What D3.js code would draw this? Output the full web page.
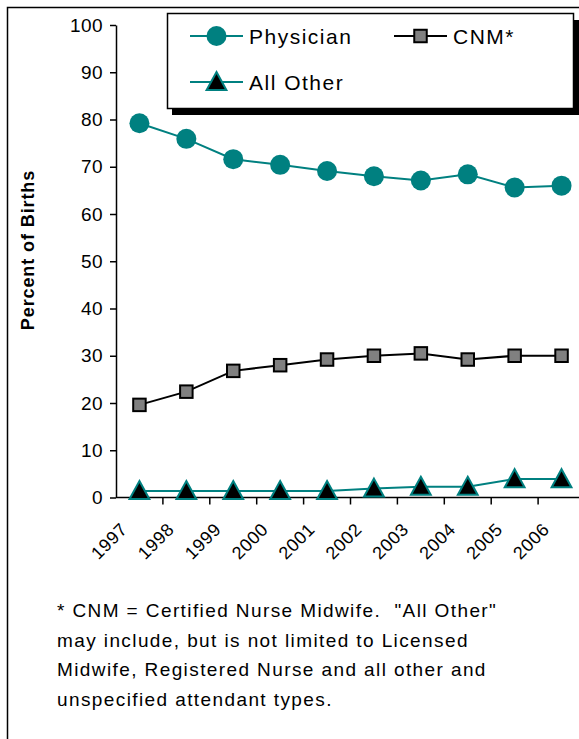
<!DOCTYPE html>
<html>
<head>
<meta charset="utf-8">
<script src="https://cdn.jsdelivr.net/npm/d3@7"></script>
<style>
  html, body { margin: 0; padding: 0; background: #fff; }
  svg { display: block; }
  text { font-family: "Liberation Sans", Arial, sans-serif; fill: #000; }
</style>
</head>
<body>
<svg id="chart" width="579" height="739"></svg>
<script>
// Birth attendant shares by year
const years = ["1997", "1998", "1999", "2000", "2001", "2002", "2003", "2004", "2005", "2006"];
const physician = [79.2, 75.9, 71.6, 70.4, 69.1, 68.0, 67.1, 68.4, 65.6, 66.0];
const cnm = [19.6, 22.4, 26.8, 28.0, 29.2, 30.0, 30.5, 29.2, 30.0, 30.0];
const allOther = [1.4, 1.4, 1.4, 1.4, 1.4, 1.9, 2.3, 2.3, 3.9, 3.9];
const yTicks = [0, 10, 20, 30, 40, 50, 60, 70, 80, 90, 100];
const seriesNames = ["Physician", "CNM*", "All Other"];
const footnoteLines = [
  "* CNM = Certified Nurse Midwife.  \"All Other\"",
  "may include, but is not limited to Licensed",
  "Midwife, Registered Nurse and all other and",
  "unspecified attendant types."
];

const teal = "#008080";
const svg = d3.select("#chart");

// outer frame (left and top edges fall inside the page)
svg.append("rect")
  .attr("x", 7.5).attr("y", 7.5)
  .attr("width", 620).attr("height", 800)
  .attr("fill", "none").attr("stroke", "#000").attr("stroke-width", 1.5);

const plot = { left: 116, top: 25, bottom: 497.5, right: 585 };

const x = d3.scaleBand().domain(years).range([plot.left, plot.right]).padding(0);
const y = d3.scaleLinear().domain([0, 100]).range([plot.bottom, plot.top]);
const cx = d => x(d) + x.bandwidth() / 2;

// y axis
const yAxis = svg.append("g")
  .attr("transform", `translate(${plot.left},0)`)
  .call(d3.axisLeft(y).tickValues(yTicks).tickSize(6).tickPadding(7).tickSizeOuter(0));
yAxis.select(".domain").attr("stroke", "#000").attr("stroke-width", 1.5);
yAxis.selectAll(".tick line").attr("stroke", "#000").attr("stroke-width", 1.5);
yAxis.selectAll(".tick text")
  .attr("font-family", "Liberation Sans, Arial, sans-serif")
  .attr("font-size", 19).attr("letter-spacing", 0.4).attr("fill", "#000");

// x axis line and tick marks between categories
const xAxis = svg.append("g").attr("transform", `translate(0,${plot.bottom})`);
xAxis.append("line")
  .attr("x1", plot.left).attr("x2", plot.right)
  .attr("stroke", "#000").attr("stroke-width", 1.5);
xAxis.selectAll("line.tk")
  .data(years)
  .join("line")
  .attr("class", "tk")
  .attr("x1", d => x(d) + x.bandwidth())
  .attr("x2", d => x(d) + x.bandwidth())
  .attr("y1", 0).attr("y2", 7)
  .attr("stroke", "#000").attr("stroke-width", 1.5);
xAxis.selectAll("text.yr")
  .data(years)
  .join("text")
  .attr("class", "yr")
  .attr("text-anchor", "end")
  .attr("font-size", 18)
  .attr("letter-spacing", 0.6)
  .attr("transform", d => `translate(${cx(d) - 11},${33}) rotate(-45)`)
  .text(d => d);

// y axis title
svg.append("text")
  .attr("transform", "translate(34,250) rotate(-90)")
  .attr("text-anchor", "middle")
  .attr("font-size", 18).attr("font-weight", "bold").attr("letter-spacing", 0.9)
  .text("Percent of Births");

// series
const line = d3.line().x((d, i) => cx(years[i])).y(d => y(d));

function circleMark(g, r) {
  g.append("circle").attr("r", r).attr("fill", teal);
}
function squareMark(g, s) {
  g.append("rect").attr("x", -s / 2).attr("y", -s / 2).attr("width", s).attr("height", s)
    .attr("fill", "#808080").attr("stroke", "#000").attr("stroke-width", 2);
}
function triangleMark(g, s) {
  g.append("path")
    .attr("d", `M0,${-s * 0.55}L${s * 0.55},${s * 0.45}L${-s * 0.55},${s * 0.45}Z`)
    .attr("fill", "#000").attr("stroke", teal).attr("stroke-width", 2).attr("stroke-linejoin", "miter");
}

const series = [
  { name: seriesNames[0], values: physician, color: teal, mark: g => circleMark(g, 10) },
  { name: seriesNames[1], values: cnm, color: "#000", mark: g => squareMark(g, 12.5) },
  { name: seriesNames[2], values: allOther, color: teal, mark: g => triangleMark(g, 18) }
];

series.forEach(s => {
  svg.append("path")
    .datum(s.values)
    .attr("d", line)
    .attr("fill", "none").attr("stroke", s.color).attr("stroke-width", 2);
  s.values.forEach((v, i) => {
    const g = svg.append("g").attr("transform", `translate(${cx(years[i])},${y(v)})`);
    s.mark(g);
  });
});

// legend
const lg = svg.append("g");
lg.append("rect").attr("x", 172).attr("y", 20).attr("width", 407).attr("height", 95).attr("fill", "#000");
lg.append("rect").attr("x", 167.5).attr("y", 13.5).attr("width", 406).attr("height", 95)
  .attr("fill", "#fff").attr("stroke", "#000").attr("stroke-width", 1.5);

const legendItems = [
  { s: series[0], lx: 190, ly: 36 },
  { s: series[1], lx: 394, ly: 36 },
  { s: series[2], lx: 190, ly: 82 }
];
legendItems.forEach(it => {
  const g = lg.append("g").attr("transform", `translate(${it.lx},${it.ly})`);
  g.append("line").attr("x1", 0).attr("x2", 53).attr("stroke", it.s.color).attr("stroke-width", 2);
  const m = g.append("g").attr("transform", "translate(26.5,0)");
  it.s.mark(m);
  g.append("text").attr("x", 59).attr("y", 7.5).attr("font-size", 21).attr("letter-spacing", 1.5)
    .text(it.s.name);
});

// footnote
const fn = svg.append("text").attr("font-size", 19).attr("letter-spacing", 1.4);
fn.selectAll("tspan")
  .data(footnoteLines)
  .join("tspan")
  .attr("x", 57)
  .attr("y", (d, i) => 617 + i * 29.7)
  .attr("xml:space", "preserve")
  .text(d => d);
</script>
</body>
</html>
